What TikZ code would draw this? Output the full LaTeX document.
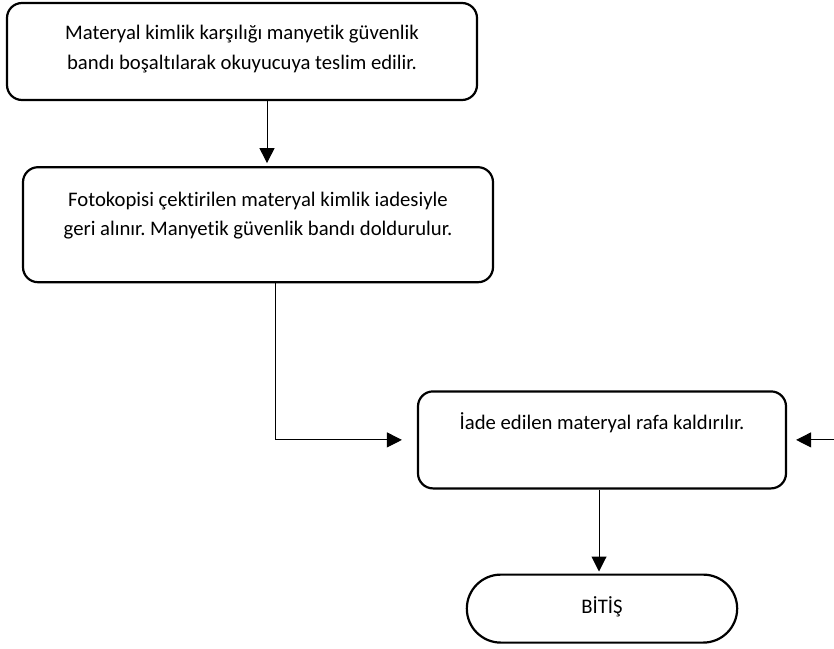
\documentclass[tikz,border=0pt]{standalone}
\usepackage{fontspec}
\setmainfont[Ligatures=NoCommon]{Carlito}
\frenchspacing
\usetikzlibrary{shapes.misc,arrows.meta,positioning}
\tikzset{box/.style={draw, line width=2.2pt, rounded corners=15pt, align=center, text centered, minimum width=470pt, font=\fontsize{20.7}{29.5}\selectfont}}
\tikzset{terminal/.style={draw, line width=2.2pt, rounded rectangle, minimum width=277pt, minimum height=68pt, font=\fontsize{20.7}{29.5}\selectfont}}
\tikzset{line/.style={draw, line width=1pt, -{Triangle[length=15pt,width=15pt]}}}

\begin{document}
\begin{tikzpicture}[x=1pt,y=-1pt]
		\useasboundingbox (0,0) rectangle (834,648);
		\node [box, minimum height=97pt, text depth=8pt]								(1) at (242,51.5) {Materyal kimlik karşılığı manyetik güvenlik\\bandı boşaltılarak okuyucuya teslim edilir.};
		\node [box, minimum height=115pt, text depth=22pt, below=65pt of 1, xshift=16pt]	(2) {Fotokopisi çektirilen materyal kimlik iadesiyle\\geri alınır. Manyetik güvenlik bandı doldurulur.};
		\node [box, minimum width=368pt, minimum height=97pt, text depth=37pt, below=107pt of 2, xshift=344pt]	(3) {İade edilen materyal rafa kaldırılır.};
		\node [terminal, text height=13pt, below=84pt of 3]							(4) {BİTİŞ};
		\coordinate [right=48pt of 3.east]												(in);

		\path [line, shorten >=3pt] ([xshift=25pt]1.south) -- ([xshift=25pt]1.south |- 2.north);
		\path [line, shorten >=15pt] ([xshift=17pt]2.south) |- (3.west);
		\path [line, shorten >=9pt] (in) -- (3.east);
		\path [line, shorten >=2pt] ([xshift=-3pt]3.south) -- ([xshift=-3pt]3.south |- 4.north);
	\end{tikzpicture}
\end{document}
